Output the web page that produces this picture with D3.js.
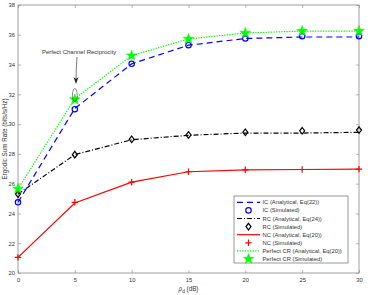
<!DOCTYPE html>
<html>
<head>
<meta charset="utf-8">
<script src="https://cdn.jsdelivr.net/npm/d3@7"></script>
<style>
  body { margin: 0; background: #fff; }
  text { font-family: "Liberation Sans", Arial, sans-serif; fill: #333; }
</style>
</head>
<body>
<div id="chart"></div>
<script>
// data
var snr = [0, 5, 10, 15, 20, 25, 30];
var icAnalytical = [24.75, 31.05, 34.05, 35.3, 35.75, 35.85, 35.85];
var icSimulated = [24.75, 31.0, 34.05, 35.3, 35.75, 35.9, 35.9];
var rcAnalytical = [25.3, 27.95, 28.95, 29.25, 29.4, 29.4, 29.45];
var rcSimulated = [25.3, 27.95, 28.98, 29.27, 29.45, 29.55, 29.6];
var ncAnalytical = [21.05, 24.7, 26.1, 26.8, 26.92, 26.95, 26.98];
var ncSimulated = [21.05, 24.75, 26.1, 26.8, 26.93, 26.95, 26.98];
var crAnalytical = [25.65, 31.7, 34.6, 35.72, 36.12, 36.25, 36.25];
var crSimulated = [25.65, 31.65, 34.6, 35.72, 36.12, 36.25, 36.25];
var xTicks = [0, 5, 10, 15, 20, 25, 30];
var yTicks = [20, 22, 24, 26, 28, 30, 32, 34, 36, 38];
var legendLabels = ["IC (Analytical, Eq(22))", "IC (Simulated)", "RC (Analytical, Eq(24))",
  "RC (Simulated)", "NC (Analytical, Eq(20))", "NC (Simulated)",
  "Perfect CR (Analytical, Eq(20))", "Perfect CR (Simulated)"];

var width = 374, height = 295;
// plot box edges
var pLeft = 18, pRight = 359, pTop = 5, pBottom = 273;

var svg = d3.select("#chart").append("svg")
  .attr("width", width).attr("height", height);

var x = d3.scaleLinear().domain([0, 30]).range([pLeft, pRight]);
var y = d3.scaleLinear().domain([20, 38]).range([pBottom, pTop]);

// frame
svg.append("rect")
  .attr("x", pLeft).attr("y", pTop)
  .attr("width", pRight - pLeft).attr("height", pBottom - pTop)
  .attr("fill", "none").attr("stroke", "#888").attr("stroke-width", 0.8);

// axes, matlab style ticks pointing in
var xAxis = d3.axisBottom(x).tickValues(xTicks).tickSize(-3).tickPadding(5);
var yAxis = d3.axisLeft(y).tickValues(yTicks).tickSize(-3).tickPadding(3);
svg.append("g").attr("transform", "translate(0," + pBottom + ")").call(xAxis);
svg.append("g").attr("transform", "translate(" + pLeft + ",0)").call(yAxis);
svg.append("g").attr("transform", "translate(0," + pTop + ")")
  .call(d3.axisTop(x).tickValues(xTicks).tickSize(-3).tickFormat(""));
svg.append("g").attr("transform", "translate(" + pRight + ",0)")
  .call(d3.axisRight(y).tickValues(yTicks).tickSize(-3).tickFormat(""));
svg.selectAll(".domain").remove();
svg.selectAll(".tick line").attr("stroke", "#888").attr("stroke-width", 0.6);
svg.selectAll(".tick text").attr("font-size", 5.8).attr("fill", "#333")
  .attr("font-family", "Liberation Sans, Arial, sans-serif");

// axis labels
svg.append("text")
  .attr("transform", "translate(7," + ((pTop + pBottom) / 2) + ")rotate(-90)")
  .attr("text-anchor", "middle").attr("font-size", 6.3)
  .text("Ergodic Sum Rate (bits/s/Hz)");
var xl = svg.append("text").attr("x", (pLeft + pRight) / 2).attr("y", 291)
  .attr("text-anchor", "middle").attr("font-size", 6.3);
xl.append("tspan").attr("font-style", "italic").text("\u03c1");
xl.append("tspan").attr("font-size", 4.8).attr("dy", 1.5).text("d");
xl.append("tspan").attr("dy", -1.5).text(" (dB)");

// series
var series = [
  { a: icAnalytical, s: icSimulated, color: "#0000ff", dash: "6,4", marker: "circle" },
  { a: rcAnalytical, s: rcSimulated, color: "#000000", dash: "5,2,1,2", marker: "diamond" },
  { a: ncAnalytical, s: ncSimulated, color: "#ff0000", dash: null, marker: "plus" },
  { a: crAnalytical, s: crSimulated, color: "#00ff00", dash: "1.3,1.3", marker: "star" }
];

var line = d3.line()
  .x(function(d, i) { return x(snr[i]); })
  .y(function(d) { return y(d); });

function drawMarker(g, type, color, cx, cy) {
  if (type === "circle") {
    g.append("circle").attr("cx", cx).attr("cy", cy).attr("r", 2.7)
      .attr("fill", "none").attr("stroke", color).attr("stroke-width", 1.2);
  } else if (type === "diamond") {
    g.append("path")
      .attr("d", "M" + cx + "," + (cy - 3.3) + "L" + (cx + 2.5) + "," + cy + "L" + cx + "," + (cy + 3.3) +
        "L" + (cx - 2.5) + "," + cy + "Z")
      .attr("fill", "none").attr("stroke", color).attr("stroke-width", 1.2);
  } else if (type === "plus") {
    g.append("path")
      .attr("d", "M" + (cx - 3.2) + "," + cy + "H" + (cx + 3.2) + "M" + cx + "," + (cy - 3.2) + "V" + (cy + 3.2))
      .attr("stroke", color).attr("stroke-width", 1.2);
  } else {
    g.append("path")
      .attr("d", d3.symbol().type(d3.symbolStar).size(34)())
      .attr("transform", "translate(" + cx + "," + cy + ")")
      .attr("fill", color).attr("stroke", color).attr("stroke-width", 0.6);
  }
}

series.forEach(function(s) {
  svg.append("path").datum(s.a)
    .attr("d", line)
    .attr("fill", "none").attr("stroke", s.color).attr("stroke-width", 1.2)
    .attr("stroke-dasharray", s.dash);
  var mg = svg.append("g");
  s.s.forEach(function(v, i) { drawMarker(mg, s.marker, s.color, x(snr[i]), y(v)); });
});

// annotation
svg.append("text").attr("x", 42).attr("y", 54).attr("font-size", 6)
  .text("Perfect Channel Reciprocity");
svg.append("path").attr("d", "M77,57 Q76,70 76,80")
  .attr("fill", "none").attr("stroke", "#222").attr("stroke-width", 0.6);
svg.append("path").attr("d", "M73.5,77 L76,84 L78.5,77 L76,79 Z").attr("fill", "#222");
svg.append("ellipse").attr("cx", x(5)).attr("cy", 95).attr("rx", 2.4).attr("ry", 6.5)
  .attr("fill", "none").attr("stroke", "#222").attr("stroke-width", 0.5);

// legend
var lg = svg.append("g");
lg.append("rect").attr("x", 234).attr("y", 196).attr("width", 114).attr("height", 67)
  .attr("fill", "#fff").attr("stroke", "#555").attr("stroke-width", 0.6);
legendLabels.forEach(function(label, i) {
  var s = series[Math.floor(i / 2)];
  var ly = 202.3 + i * 8.1;
  if (i % 2 === 0) {
    lg.append("line").attr("x1", 237).attr("x2", 260).attr("y1", ly).attr("y2", ly)
      .attr("stroke", s.color).attr("stroke-width", 1.2).attr("stroke-dasharray", s.dash);
  } else {
    drawMarker(lg, s.marker, s.color, 248.5, ly);
  }
  lg.append("text").attr("x", 262.5).attr("y", ly + 2).attr("font-size", 5.8).text(label);
});
</script>
</body>
</html>
